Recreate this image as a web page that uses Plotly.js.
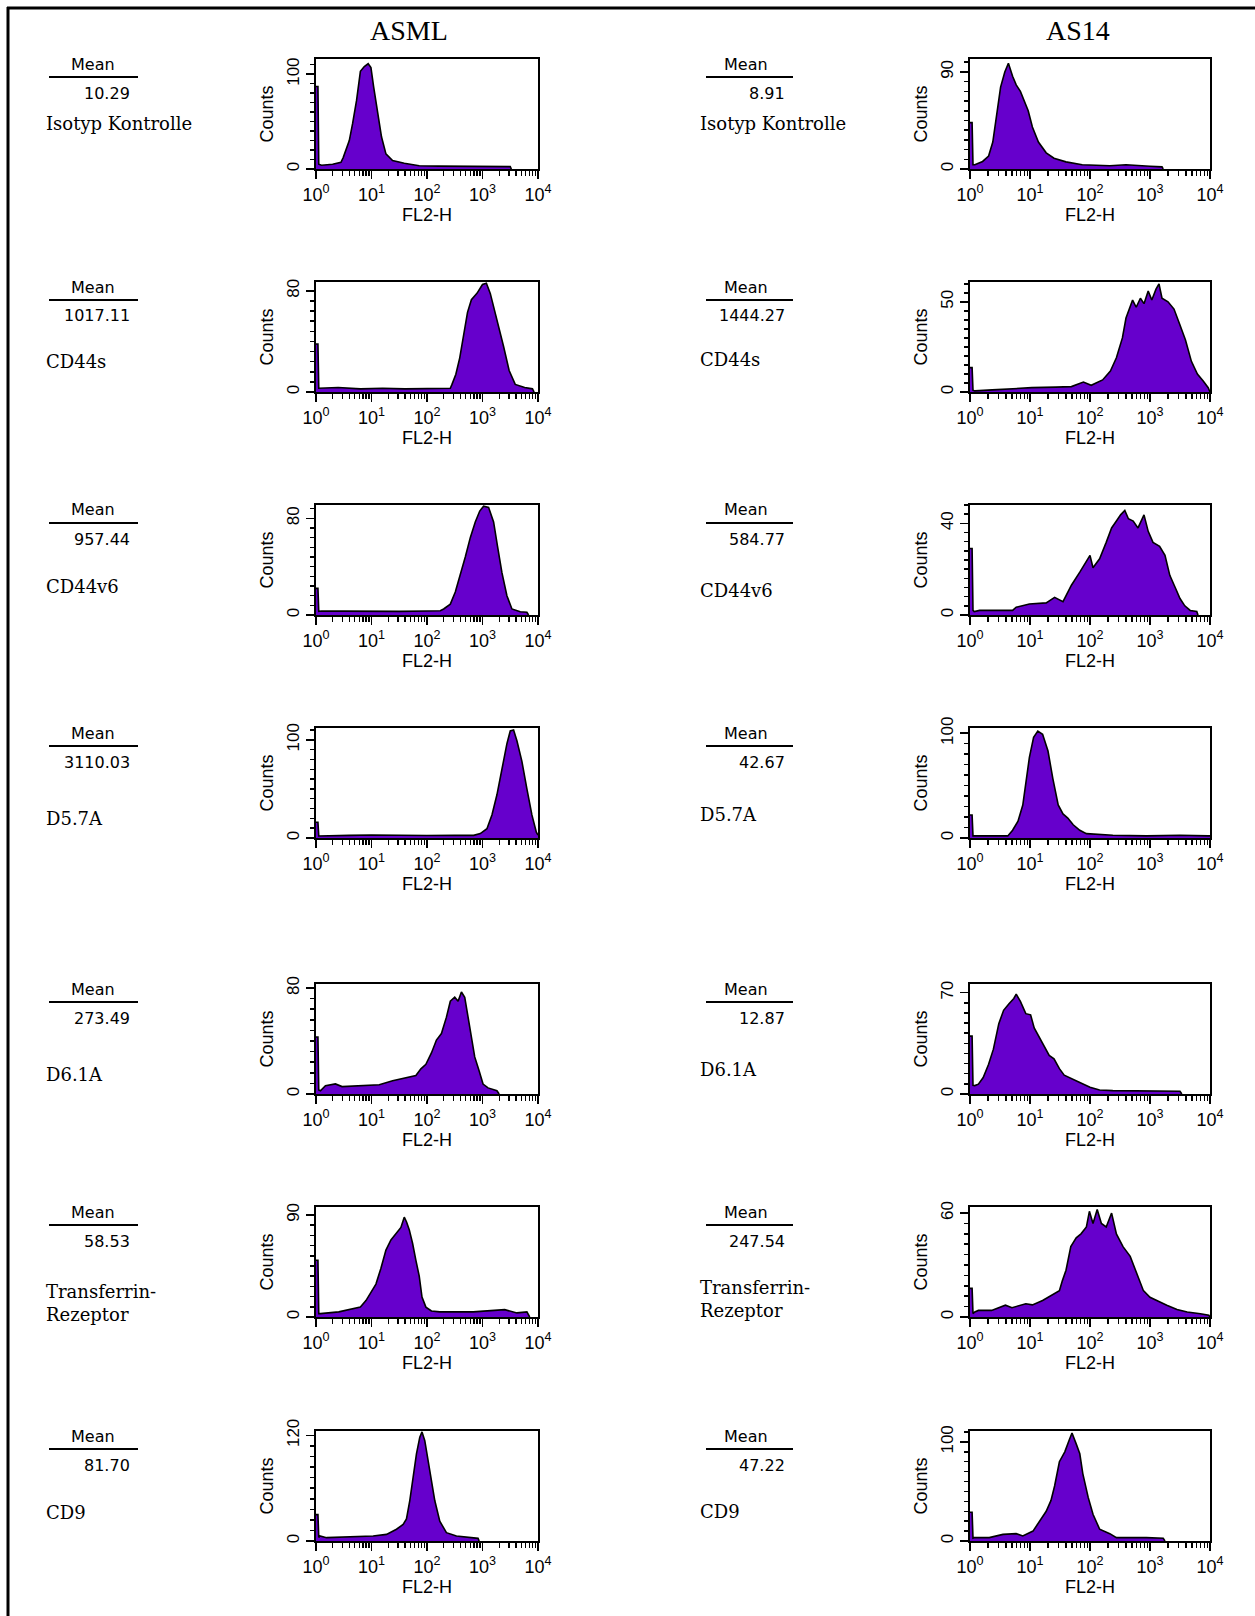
<!DOCTYPE html>
<html>
<head>
<meta charset="utf-8">
<script src="https://cdn.plot.ly/plotly-3.0.1.min.js"></script>
<style>html,body{margin:0;padding:0;background:#ffffff;}</style>
</head>
<body>
<div id="chart" style="width:1255px;height:1616px;"></div>
<script>
// ---------------- DATA ----------------
const columnTitles = ['ASML', 'AS14'];
const markers = ['Isotyp Kontrolle', 'CD44s', 'CD44v6', 'D5.7A', 'D6.1A', 'Transferrin-<br>Rezeptor', 'CD9'];
const asmlMeans = ['10.29', '1017.11', '957.44', '3110.03', '273.49', '58.53', '81.70'];
const as14Means = ['8.91', '1444.27', '584.77', '42.67', '12.87', '247.54', '47.22'];
const asmlCountLabels = [100, 80, 80, 100, 80, 90, 120];
const as14CountLabels = [90, 50, 40, 100, 70, 60, 100];
const asmlCountMax = [116, 87, 91, 112, 83, 97, 125];
const as14CountMax = [102, 61, 48, 105, 76, 63.5, 111];
const xTickVals = [1, 10, 100, 1000, 10000];
const xTickText = ['10<sup>0</sup>', '10<sup>1</sup>', '10<sup>2</sup>', '10<sup>3</sup>', '10<sup>4</sup>'];

// histograms: x as log10(FL2-H), y as counts
// ASML
const asmlIsoLogX = [0, 0.035, 0.05, 0.1, 0.3, 0.45, 0.49, 0.6, 0.66, 0.73, 0.8, 0.87, 0.94, 0.99, 1.04, 1.11, 1.18, 1.26, 1.38, 1.59, 1.86, 2.2, 2.9, 3.5, 3.52];
const asmlIsoCounts = [87, 87, 5, 4, 5, 7, 12, 30, 48, 72, 103, 108, 111, 107, 86, 58, 34, 16, 9, 6, 3.5, 3, 3, 2.5, 0];
const asmlCD44sLogX = [0, 0.035, 0.05, 0.1, 0.4, 0.8, 1.2, 1.6, 2.0, 2.42, 2.45, 2.52, 2.59, 2.66, 2.73, 2.8, 2.9, 3.0, 3.07, 3.14, 3.2, 3.28, 3.38, 3.48, 3.59, 3.76, 3.9, 3.93];
const asmlCD44sCounts = [38, 38, 3, 3, 3.5, 2.5, 3, 2.5, 2.5, 3, 6, 14, 27, 46, 63, 73, 78, 85, 86, 78, 68, 54, 36, 17, 6, 3.5, 2.5, 0];
const asmlCD44v6LogX = [0, 0.035, 0.05, 0.1, 0.5, 1.0, 1.5, 2.0, 2.24, 2.3, 2.42, 2.51, 2.6, 2.69, 2.78, 2.87, 2.95, 3.02, 3.11, 3.2, 3.27, 3.35, 3.44, 3.53, 3.68, 3.8, 3.83];
const asmlCD44v6Counts = [22, 22, 3, 3.3, 3.2, 3, 3, 3.3, 3.5, 5, 9, 19, 33, 48, 64, 77, 86, 90, 89, 77, 57, 35, 16, 5, 2.7, 2.3, 0];
const asmlD57aLogX = [0, 0.035, 0.05, 0.1, 0.6, 1.0, 1.5, 2.0, 2.5, 2.84, 2.96, 3.08, 3.17, 3.26, 3.35, 3.44, 3.5, 3.56, 3.62, 3.71, 3.8, 3.89, 3.97, 4.0];
const asmlD57aCounts = [16, 16, 2, 2, 2.7, 3, 2.5, 2.5, 2.7, 2.7, 4.5, 9.5, 23.5, 44, 70, 96, 109, 110, 99, 78, 50, 23.5, 6, 3];
const asmlD61aLogX = [0, 0.035, 0.05, 0.08, 0.17, 0.35, 0.47, 0.9, 1.14, 1.38, 1.62, 1.8, 1.89, 1.98, 2.08, 2.17, 2.26, 2.35, 2.42, 2.5, 2.56, 2.62, 2.68, 2.74, 2.8, 2.86, 2.94, 3.01, 3.1, 3.26, 3.3];
const asmlD61aCounts = [43, 43, 3, 2.5, 6.3, 7.6, 5.6, 6.3, 7, 10, 12, 14, 19, 22.4, 31, 40.7, 45.6, 58, 70, 73, 70, 77, 73, 58, 43, 28, 17.4, 7.5, 4.6, 2.5, 0];
const asmlTfrLogX = [0, 0.035, 0.05, 0.08, 0.41, 0.65, 0.8, 0.9, 0.99, 1.08, 1.17, 1.26, 1.35, 1.44, 1.53, 1.59, 1.63, 1.68, 1.74, 1.8, 1.86, 1.91, 1.98, 2.08, 2.23, 2.83, 3.4, 3.62, 3.8, 3.85];
const asmlTfrCounts = [50, 50, 3, 3, 4.5, 7.4, 8.7, 14.5, 22, 29, 43, 59, 68, 73, 79, 88, 84, 77, 65, 50, 36, 17.5, 8.7, 5.3, 4.5, 4.5, 6.5, 3.6, 4.5, 0];
const asmlCD9LogX = [0, 0.035, 0.05, 0.07, 0.19, 0.73, 1.03, 1.27, 1.45, 1.57, 1.63, 1.69, 1.75, 1.81, 1.87, 1.91, 1.96, 2.02, 2.08, 2.14, 2.23, 2.35, 2.53, 2.83, 2.92, 2.94];
const asmlCD9Counts = [30, 30, 4, 5.7, 3.8, 4.6, 5.7, 7.5, 13.4, 18.8, 25, 46, 72.5, 99, 118, 124, 114, 91, 69, 46, 22.5, 9.5, 5.7, 3.8, 3, 0];
// AS14
const as14IsoLogX = [0, 0.035, 0.05, 0.08, 0.21, 0.31, 0.38, 0.44, 0.51, 0.58, 0.64, 0.71, 0.77, 0.84, 0.91, 0.97, 1.04, 1.14, 1.27, 1.4, 1.6, 1.87, 2.33, 2.6, 3.0, 3.2, 3.22];
const as14IsoCounts = [43, 43, 4, 4, 7, 12, 25, 51, 76, 90, 98, 86, 78, 72, 63, 54, 39, 25, 15, 10, 6.6, 4, 3, 4, 2.5, 2, 0];
const as14CD44sLogX = [0, 0.035, 0.05, 0.08, 0.37, 1.03, 1.43, 1.69, 1.89, 2.02, 2.21, 2.34, 2.44, 2.54, 2.6, 2.71, 2.77, 2.84, 2.9, 2.97, 3.03, 3.1, 3.15, 3.2, 3.3, 3.4, 3.49, 3.59, 3.69, 3.79, 3.89, 3.97, 4.0];
const as14CD44sCounts = [13.5, 13.5, 1, 0.6, 1.2, 2.4, 2.7, 3, 5.5, 3.7, 6.7, 11.6, 19, 30, 41, 51, 47, 52, 49, 56, 51, 57, 60, 52, 50, 46, 38, 29, 17, 10, 6, 2.4, 0];
const as14CD44v6LogX = [0, 0.035, 0.05, 0.07, 0.16, 0.71, 0.77, 0.99, 1.27, 1.41, 1.55, 1.69, 1.83, 2.0, 2.05, 2.16, 2.27, 2.36, 2.44, 2.51, 2.58, 2.64, 2.72, 2.8, 2.9, 2.97, 3.05, 3.16, 3.25, 3.33, 3.42, 3.5, 3.58, 3.67, 3.78, 3.8];
const as14CD44v6Counts = [29, 29, 2, 1.5, 2, 2, 3.4, 4.8, 5.3, 7.7, 5.8, 13, 18.7, 26, 20.6, 24.5, 31.7, 38, 41, 43.7, 45.6, 42, 41, 38, 43.7, 36.5, 31.7, 30, 26, 17.3, 12, 7.2, 4, 2, 1.5, 0];
const as14D57aLogX = [0, 0.035, 0.05, 0.07, 0.27, 0.63, 0.71, 0.8, 0.88, 0.94, 0.99, 1.06, 1.13, 1.21, 1.3, 1.38, 1.47, 1.55, 1.63, 1.72, 1.83, 1.94, 2.38, 2.94, 3.5, 3.97, 4.0];
const as14D57aCounts = [22, 22, 2, 2, 2.6, 2, 7.4, 16, 31.5, 54, 77, 96, 102, 99, 83, 57, 31.5, 23, 19, 12.6, 7.4, 4.2, 2.6, 2, 2.6, 2, 2];
const as14D61aLogX = [0, 0.035, 0.05, 0.08, 0.14, 0.22, 0.31, 0.39, 0.48, 0.56, 0.65, 0.73, 0.77, 0.84, 0.93, 1.01, 1.07, 1.15, 1.24, 1.32, 1.4, 1.49, 1.57, 1.68, 1.83, 2.0, 2.16, 2.38, 2.94, 3.5, 3.53];
const as14D61aCounts = [40, 40, 6, 5.8, 6.8, 11.4, 20.5, 31, 48.6, 57.8, 62.3, 66, 69, 64, 55.5, 54.7, 45.6, 39.5, 32.7, 26.6, 24.3, 17.5, 13, 11, 8, 4.6, 2.8, 2.3, 1.9, 1.9, 0];
const as14TfrLogX = [0, 0.035, 0.05, 0.08, 0.14, 0.36, 0.59, 0.7, 0.93, 1.04, 1.21, 1.37, 1.49, 1.54, 1.6, 1.68, 1.77, 1.85, 1.94, 1.99, 2.05, 2.12, 2.19, 2.27, 2.36, 2.44, 2.55, 2.67, 2.78, 2.89, 3.0, 3.11, 3.28, 3.45, 3.62, 3.84, 3.98, 4.0];
const as14TfrCounts = [16.5, 16.5, 2, 2.9, 3.8, 3.8, 6.8, 5.4, 7.6, 7, 9.5, 12.7, 15.2, 21, 27, 40.6, 45.7, 48, 52, 61, 54, 62, 54, 52, 60, 48, 40.6, 35, 25.4, 15.2, 11.4, 9.5, 6.8, 4.3, 2.9, 1.9, 1, 0];
const as14CD9LogX = [0, 0.035, 0.05, 0.07, 0.32, 0.55, 0.77, 0.88, 1.05, 1.16, 1.27, 1.35, 1.41, 1.49, 1.58, 1.66, 1.7, 1.77, 1.83, 1.88, 1.97, 2.05, 2.16, 2.33, 2.44, 2.94, 3.22, 3.25];
const as14CD9Counts = [29, 29, 3, 3.4, 3.4, 6.7, 7.4, 5.1, 10, 20, 30, 41, 55.5, 80, 90, 103, 109, 98, 88, 68, 44, 27, 12, 7.4, 3.4, 3.4, 2.8, 0];

const asmlHist = [
  [asmlIsoLogX, asmlIsoCounts], [asmlCD44sLogX, asmlCD44sCounts], [asmlCD44v6LogX, asmlCD44v6Counts],
  [asmlD57aLogX, asmlD57aCounts], [asmlD61aLogX, asmlD61aCounts], [asmlTfrLogX, asmlTfrCounts], [asmlCD9LogX, asmlCD9Counts]
];
const as14Hist = [
  [as14IsoLogX, as14IsoCounts], [as14CD44sLogX, as14CD44sCounts], [as14CD44v6LogX, as14CD44v6Counts],
  [as14D57aLogX, as14D57aCounts], [as14D61aLogX, as14D61aCounts], [as14TfrLogX, as14TfrCounts], [as14CD9LogX, as14CD9Counts]
];

// ---------------- LAYOUT GEOMETRY (pixels) ----------------
const W = 1255, H = 1616;
const rowTops = [59, 282, 505, 728, 984, 1207, 1431];
const boxH = 110;
const colBox = [[316, 538], [970, 1210]];
const textCol = [
  {meanX: 93, lineX0: 49, lineX1: 138, valX: 132, nameX: 44},
  {meanX: 746, lineX0: 706, lineX1: 793, valX: 787, nameX: 698}
];
const nameY = [
  [124, 362, 586, 818, 1074, 1303, 1512],
  [124, 359, 591, 814, 1069, 1299, 1511]
];
const titleX = [409, 1078];

const px = v => v / W;
const py = v => 1 - v / H;

const FILL = 'rgb(102,0,204)';
const SANS = 'Liberation Sans, Arial, sans-serif';
const WIDESANS = 'DejaVu Sans, Liberation Sans, sans-serif';
const SERIF = 'Liberation Serif, Times New Roman, serif';
const WIDESERIF = 'DejaVu Serif, Liberation Serif, serif';

const traces = [];
const layout = {
  width: W, height: H,
  margin: {l: 0, r: 0, t: 0, b: 0},
  paper_bgcolor: '#ffffff', plot_bgcolor: '#ffffff',
  showlegend: false,
  annotations: [], shapes: []
};

const cols = [
  {hist: asmlHist, means: asmlMeans, labels: asmlCountLabels, maxes: asmlCountMax},
  {hist: as14Hist, means: as14Means, labels: as14CountLabels, maxes: as14CountMax}
];

cols.forEach((col, c) => {
  layout.annotations.push({
    xref: 'paper', yref: 'paper', x: px(titleX[c]), y: py(31),
    xanchor: 'center', yanchor: 'middle', showarrow: false,
    text: columnTitles[c], font: {family: SERIF, size: 28, color: '#000'}
  });
  for (let r = 0; r < 7; r++) {
    const idx = c * 7 + r + 1;
    const xa = 'xaxis' + idx, ya = 'yaxis' + idx;
    const [lx, cnt] = col.hist[r];
    traces.push({
      type: 'scatter', mode: 'lines',
      x: lx.map(d => Math.pow(10, d)), y: cnt,
      xaxis: 'x' + idx, yaxis: 'y' + idx,
      line: {color: '#000', width: 1.6},
      fill: 'tozeroy', fillcolor: FILL,
      hoverinfo: 'skip'
    });
    const T = rowTops[r];
    layout[xa] = {
      domain: [px(colBox[c][0]), px(colBox[c][1])],
      anchor: 'y' + idx, type: 'log', range: [0, 4],
      showline: true, mirror: true, linecolor: '#000', linewidth: 2,
      showgrid: false, zeroline: false,
      ticks: 'outside', ticklen: 8, tickwidth: 1.5, tickcolor: '#000',
      tickmode: 'array', tickvals: xTickVals, ticktext: xTickText,
      tickfont: {family: SANS, size: 18, color: '#000'},
      minor: {ticks: 'outside', ticklen: 5, tickwidth: 1.3, tickcolor: '#000', dtick: 'D1', showgrid: false},
      title: {text: 'FL2-H', font: {family: SANS, size: 18, color: '#000'}, standoff: 4},
      fixedrange: true
    };
    layout[ya] = {
      domain: [py(T + boxH), py(T)],
      anchor: 'x' + idx, range: [0, col.maxes[r]],
      showline: true, mirror: true, linecolor: '#000', linewidth: 2,
      showgrid: false, zeroline: false,
      ticks: 'outside', ticklen: 8, tickwidth: 1.5, tickcolor: '#000',
      tickmode: 'array', tickvals: [0, col.labels[r]], ticktext: ['0', String(col.labels[r])],
      tickangle: -90,
      tickfont: {family: SANS, size: 17, color: '#000'},
      minor: {ticks: 'outside', ticklen: 4, tickwidth: 1.5, tickcolor: '#000', tickmode: 'linear', tick0: 0, dtick: col.labels[r] / 10, showgrid: false},
      title: {text: 'Counts', font: {family: SANS, size: 18, color: '#000'}, standoff: 6},
      fixedrange: true
    };
    // text block
    const tc = textCol[c];
    layout.annotations.push({
      xref: 'paper', yref: 'paper', x: px(tc.meanX), y: py(T + 5),
      xanchor: 'center', yanchor: 'middle', showarrow: false,
      text: 'Mean', font: {family: WIDESANS, size: 16, color: '#000'}
    });
    layout.shapes.push({
      type: 'line', xref: 'paper', yref: 'paper',
      x0: px(tc.lineX0), x1: px(tc.lineX1), y0: py(T + 18), y1: py(T + 18),
      line: {color: '#000', width: 2}
    });
    layout.annotations.push({
      xref: 'paper', yref: 'paper', x: px(tc.valX), y: py(T + 34),
      xanchor: 'right', yanchor: 'middle', showarrow: false,
      text: col.means[r], font: {family: WIDESANS, size: 16, color: '#000'}
    });
    layout.annotations.push({
      xref: 'paper', yref: 'paper', x: px(tc.nameX), y: py(nameY[c][r]),
      xanchor: 'left', yanchor: 'middle', showarrow: false, align: 'left',
      text: markers[r], font: {family: WIDESERIF, size: 18, color: '#000'}
    });
  }
});

// outer frame (top and left edges)
layout.shapes.push({type: 'line', xref: 'paper', yref: 'paper', x0: px(8), x1: px(8), y0: py(7), y1: 0, line: {color: '#000', width: 3}});
layout.shapes.push({type: 'line', xref: 'paper', yref: 'paper', x0: px(7), x1: 1, y0: py(8), y1: py(8), line: {color: '#000', width: 3}});

Plotly.newPlot('chart', traces, layout, {staticPlot: true, displayModeBar: false});
</script>
</body>
</html>
